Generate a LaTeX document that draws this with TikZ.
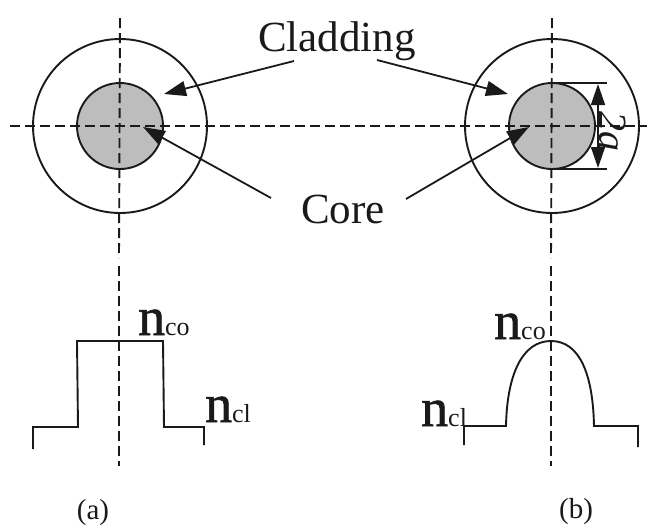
\documentclass[tikz,border=0pt]{standalone}
\usepackage{fontspec}
\setmainfont{Liberation Serif}
\newfontfamily\nfont{Liberation Serif}[FakeBold=1.2]
\usetikzlibrary{arrows.meta}
\definecolor{ink}{HTML}{1A1A1A}
\definecolor{coregray}{HTML}{BDBDBD}
\tikzset{
  ln/.style={draw=ink,line width=1.9pt},
  outerc/.style={circle,ln,minimum size=174pt,inner sep=0pt},
  innerc/.style={circle,ln,fill=coregray,minimum size=86pt,inner sep=0pt},
  axisline/.style={draw=ink,line width=1.9pt,dash pattern=on 10pt off 5pt},
  pointer/.style={draw=ink,line width=1.8pt,-{Triangle[length=22pt,width=15pt]},shorten >=0pt},
  dimarrow/.style={draw=ink,line width=1.5pt,{Triangle[length=21pt,width=14pt]}-{Triangle[length=21pt,width=14pt]}},
  big/.style={anchor=base west,inner sep=0pt,text=ink,font=\fontsize{43}{43}\selectfont},
  idx/.style={anchor=base west,inner sep=0pt,text=ink,font=\fontsize{54}{54}\nfont},
  captext/.style={inner sep=0pt,text=ink,font=\fontsize{29}{29}\selectfont}
}
\newcommand{\nsub}[2]{#1{\fontsize{26}{26}\rmfamily #2}}
\begin{document}
\begin{tikzpicture}[x=1pt,y=-1pt]
\useasboundingbox (0,0) rectangle (652,528);
% fibre cross-sections
\node[outerc] (oa) at (120,126) {};
\node[innerc] (ia) at (120,126) {};
\node[outerc] (ob) at (552,126) {};
\node[innerc] (ib) at (552,126) {};
% axes
\coordinate (hl) at (10,126);
\coordinate (hr) at (647,126);
\coordinate (vat) at (120,18);
\coordinate (vab) at (119,258);
\coordinate (vbt) at (552,18);
\coordinate (vbb) at (551,258);
\coordinate (pat) at (119,266);
\coordinate (pab) at (119,466);
\coordinate (pbt) at (551,266);
\coordinate (pbb) at (551,466);
\draw[axisline] (hl) -- (hr);
\draw[axisline] (vat) -- (vab);
\draw[axisline] (vbt) -- (vbb);
\draw[axisline] (pat) -- (pab);
\draw[axisline] (pbt) -- (pbb);
% labels
\node[big] (clad) at (258,51) {Cladding};
\node[big] (core) at (301,223) {Core};
% pointers
\coordinate (c1s) at (294,61);
\coordinate (c1e) at (164,94);
\coordinate (c2s) at (377,60);
\coordinate (c2e) at (508,94);
\coordinate (k1s) at (271,198);
\coordinate (k1e) at (143,127);
\coordinate (k2s) at (406,199);
\coordinate (k2e) at (529,127);
\draw[pointer] (c1s) -- (c1e);
\draw[pointer] (c2s) -- (c2e);
\draw[pointer] (k1s) -- (k1e);
\draw[pointer] (k2s) -- (k2e);
% dimension 2a
\coordinate (d1s) at (552,83);
\coordinate (d1e) at (607,83);
\coordinate (d2s) at (552,169);
\coordinate (d2e) at (607,169);
\coordinate (dat) at (598,84);
\coordinate (dab) at (598,168);
\draw[ln] (d1s) -- (d1e);
\draw[ln] (d2s) -- (d2e);
\draw[dimarrow] (dat) -- (dab);
\node[rotate=-90,inner sep=0pt,text=ink,font=\fontsize{40}{40}\selectfont\itshape] (dim) at (613,131) {2a};
% profile (a)
\coordinate (a0) at (33,449);
\coordinate (a1) at (33,427);
\coordinate (a2) at (78,427);
\coordinate (a3) at (77,341);
\coordinate (a4) at (163,341);
\coordinate (a5) at (164,427);
\coordinate (a6) at (204,427);
\coordinate (a7) at (204,445);
\draw[ln] (a0) -- (a1) -- (a2) -- (a3) -- (a4) -- (a5) -- (a6) -- (a7);
% profile (b)
\coordinate (b0) at (464,445);
\coordinate (b1) at (464,426);
\coordinate (b2) at (506,426);
\coordinate (b3) at (551,341);
\coordinate (b4) at (594,426);
\coordinate (b5) at (638,426);
\coordinate (b6) at (638,447);
\draw[ln] (b0) -- (b1) -- (b2) .. controls (507,375) and (522,341) .. (b3)
  .. controls (580,341) and (593,375) .. (b4) -- (b5) -- (b6);
% indices
\node[idx] (nca) at (138,335) {\nsub{n}{co}};
\node[idx] (nla) at (205,422) {\nsub{n}{cl}};
\node[idx] (ncb) at (494,339) {\nsub{n}{co}};
\node[idx] (nlb) at (421,426) {\nsub{n}{cl}};
% captions
\node[captext] (capa) at (93,513) {(a)};
\node[captext] (capb) at (576,512) {(b)};
\end{tikzpicture}
\end{document}
